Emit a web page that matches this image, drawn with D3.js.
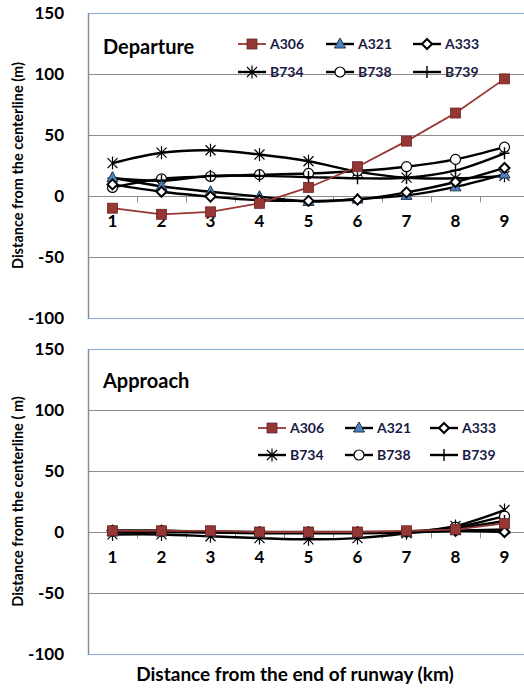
<!DOCTYPE html>
<html>
<head>
<meta charset="utf-8">
<script src="https://cdn.jsdelivr.net/npm/d3@7/dist/d3.min.js"></script>
<style>
  html, body { margin: 0; padding: 0; background: #fff; }
  svg { display: block; font-family: Lato, "Open Sans", sans-serif; }
</style>
</head>
<body>
<svg id="chart" width="524" height="690"></svg>
<script>
// Distance from the end of runway (km)
const categories = ["1", "2", "3", "4", "5", "6", "7", "8", "9"];
const yTicks = [-100, -50, 0, 50, 100, 150];
const seriesNames = ["A306", "A321", "A333", "B734", "B738", "B739"];

// Departure: lateral distance from the centerline (m)
const depA306 = [-10, -15, -13, -6, 7, 24, 45, 68, 96];
const depA321 = [15, 8, 3.5, -0.5, -4.5, -2.5, 0.5, 7.5, 18];
const depA333 = [9.5, 3.5, -0.5, -3.5, -4, -3, 3, 11.5, 23];
const depB734 = [27, 35.5, 37.5, 34, 28.5, 20, 15, 14.5, 16.5];
const depB738 = [7, 14, 16, 17.5, 18.5, 20.5, 24, 30, 40];
const depB739 = [14.5, 12.5, 16.5, 16.5, 15.5, 14.5, 15, 21, 35];

// Approach: lateral distance from the centerline (m)
const appA306 = [1, 1, 1, 0, 0, 0, 1, 2, 7];
const appA321 = [0, 0, -0.5, -1, -1, -1, -0.5, 1, 2];
const appA333 = [1, 1, 0, -0.5, -0.5, -0.5, 0, 1, 0];
const appB734 = [-2, -2, -3.5, -5, -6, -5, -1, 5, 18];
const appB738 = [1, 1, 0.5, 0, 0, 0, 0.5, 4, 13];
const appB739 = [0.5, 0.5, 0, -0.5, -0.5, -0.5, 0, 3, 9];

const depValues = [depA306, depA321, depA333, depB734, depB738, depB739];
const appValues = [appA306, appA321, appA333, appB734, appB738, appB739];

const style = {
  A306: { color: "#953735", width: 1.8, marker: "square", smooth: false },
  A321: { color: "#000", width: 2.4, marker: "triangle", smooth: true },
  A333: { color: "#000", width: 2.4, marker: "diamond", smooth: true },
  B734: { color: "#000", width: 2.4, marker: "star", smooth: true },
  B738: { color: "#000", width: 2.4, marker: "circle", smooth: true },
  B739: { color: "#000", width: 2.4, marker: "plus", smooth: true }
};

const svg = d3.select("#chart");

function drawMarker(g, kind) {
  switch (kind) {
    case "square":
      g.append("rect").attr("x", -5).attr("y", -5).attr("width", 10).attr("height", 10)
        .attr("fill", "#953735").attr("stroke", "#6b2523").attr("stroke-width", 0.8);
      break;
    case "triangle":
      g.append("path").attr("d", "M0,-6L5.5,4L-5.5,4Z")
        .attr("fill", "#4F81BD").attr("stroke", "#1f3550").attr("stroke-width", 1);
      break;
    case "diamond":
      g.append("path").attr("d", "M0,-5L5,0L0,5L-5,0Z")
        .attr("fill", "#fff").attr("stroke", "#000").attr("stroke-width", 2);
      break;
    case "star":
      g.append("path").attr("d", "M-5,-5L5,5M-5,5L5,-5M0,-6.5L0,6.5")
        .attr("stroke", "#000").attr("stroke-width", 1.2).attr("fill", "none");
      break;
    case "circle":
      g.append("circle").attr("r", 5)
        .attr("fill", "#fff").attr("stroke", "#000").attr("stroke-width", 1.2);
      break;
    case "plus":
      g.append("path").attr("d", "M-5,0L5,0M0,-6L0,6")
        .attr("stroke", "#000").attr("stroke-width", 1.4).attr("fill", "none");
      break;
  }
}

function panel(cfg) {
  const x = d3.scaleBand().domain(categories).range([88, 529]);
  const y = d3.scaleLinear().domain([-100, 150]).range([cfg.bottom, cfg.top]);
  const g = svg.append("g");

  // plot area frame
  g.append("rect")
    .attr("x", 88.5).attr("y", y(150) + 0.5)
    .attr("width", 460).attr("height", y(-100) - y(150))
    .attr("fill", "#fff").attr("stroke", "#95B3D7").attr("stroke-width", 1.2);

  // horizontal gridlines
  g.selectAll("line.grid").data(yTicks.filter(v => v !== 0 && v !== 150 && v !== -100))
    .join("line").attr("class", "grid")
    .attr("x1", 88).attr("x2", 529)
    .attr("y1", d => Math.round(y(d)) + 0.5).attr("y2", d => Math.round(y(d)) + 0.5)
    .attr("stroke", "#8c8c8c").attr("stroke-width", 1);

  // vertical axis line
  g.append("line").attr("x1", 88.5).attr("x2", 88.5)
    .attr("y1", y(150)).attr("y2", y(-100) + 1)
    .attr("stroke", "#8c8c8c").attr("stroke-width", 1.3);

  // y-axis labels (plain hyphen for negatives)
  const yAxis = d3.axisLeft(y).tickValues(yTicks).tickSize(0).tickPadding(24)
    .tickFormat(d => String(d));
  const ya = g.append("g").attr("transform", "translate(88,0)").call(yAxis);
  ya.select(".domain").remove();
  ya.selectAll("text").attr("font-family", "Lato, sans-serif").attr("font-weight", 700)
    .attr("font-size", 17).attr("fill", "#000");

  // category axis at zero
  const y0 = Math.round(y(0)) + 0.5;
  g.append("line").attr("x1", 88).attr("x2", 529).attr("y1", y0).attr("y2", y0)
    .attr("stroke", "#8c8c8c").attr("stroke-width", 1);
  g.selectAll("line.tick").data(categories)
    .join("line").attr("class", "tick")
    .attr("x1", d => Math.round(x(d)) + 0.5).attr("x2", d => Math.round(x(d)) + 0.5)
    .attr("y1", y0).attr("y2", y0 + 6)
    .attr("stroke", "#8c8c8c").attr("stroke-width", 1);
  const xAxis = d3.axisBottom(x).tickSize(0).tickPadding(19);
  const xa = g.append("g").attr("transform", `translate(0,${y(0)})`).call(xAxis);
  xa.select(".domain").remove();
  xa.selectAll("text").attr("font-family", "Lato, sans-serif").attr("font-weight", 700)
    .attr("font-size", 17).attr("fill", "#000");

  // y-axis title
  g.append("text")
    .attr("transform", `translate(23,${(y(150) + y(-100)) / 2}) rotate(-90)`)
    .attr("text-anchor", "middle")
    .attr("font-weight", 700).attr("font-size", 14.5).attr("fill", "#000")
    .text(cfg.yTitle);

  // panel title
  g.append("text").attr("x", 103).attr("y", cfg.titleY)
    .attr("font-weight", 700).attr("font-size", 20).attr("fill", "#000")
    .text(cfg.title);

  // series
  const smoothLine = d3.line()
    .x((d, i) => x(categories[i]) + x.bandwidth() / 2)
    .y(d => y(d))
    .curve(d3.curveCatmullRom.alpha(0.5));
  const straightLine = d3.line()
    .x((d, i) => x(categories[i]) + x.bandwidth() / 2)
    .y(d => y(d));

  const order = [3, 4, 5, 1, 2, 0];
  order.forEach(si => {
    const name = seriesNames[si];
    const st = style[name];
    const vals = cfg.values[si];
    g.append("path").datum(vals).attr("d", st.smooth ? smoothLine : straightLine)
      .attr("fill", "none").attr("stroke", st.color).attr("stroke-width", st.width);
    vals.forEach((v, i) => {
      const mg = g.append("g")
        .attr("transform", `translate(${x(categories[i]) + x.bandwidth() / 2},${y(v)})`);
      drawMarker(mg, st.marker);
    });
  });

  // legend
  const lg = g.append("g");
  seriesNames.forEach((name, i) => {
    const st = style[name];
    const col = i % 3, row = Math.floor(i / 3);
    const lx = cfg.legendX[col], ly = cfg.legendY[row];
    const item = lg.append("g").attr("transform", `translate(${lx},${ly})`);
    item.append("line").attr("x1", 0).attr("x2", 28).attr("y1", 0).attr("y2", 0)
      .attr("stroke", st.color).attr("stroke-width", st.width);
    drawMarker(item.append("g").attr("transform", "translate(14,0)"), st.marker);
    item.append("text").attr("x", 32).attr("y", 5)
      .attr("font-weight", 700).attr("font-size", 14).attr("fill", "#1a1a44")
      .text(name);
  });
}

panel({
  top: 13, bottom: 318, title: "Departure", titleY: 54,
  yTitle: "Distance from the centerline (m)",
  values: depValues,
  legendX: [238, 326, 413], legendY: [44, 72]
});

panel({
  top: 349, bottom: 654, title: "Approach", titleY: 388,
  yTitle: "Distance from the centerline ( m)",
  values: appValues,
  legendX: [258, 345, 430], legendY: [428, 455]
});

// shared category axis title
svg.append("text").attr("x", 295).attr("y", 681)
  .attr("text-anchor", "middle")
  .attr("font-weight", 700).attr("font-size", 19).attr("fill", "#000")
  .text("Distance from the end of runway (km)");
</script>
</body>
</html>
